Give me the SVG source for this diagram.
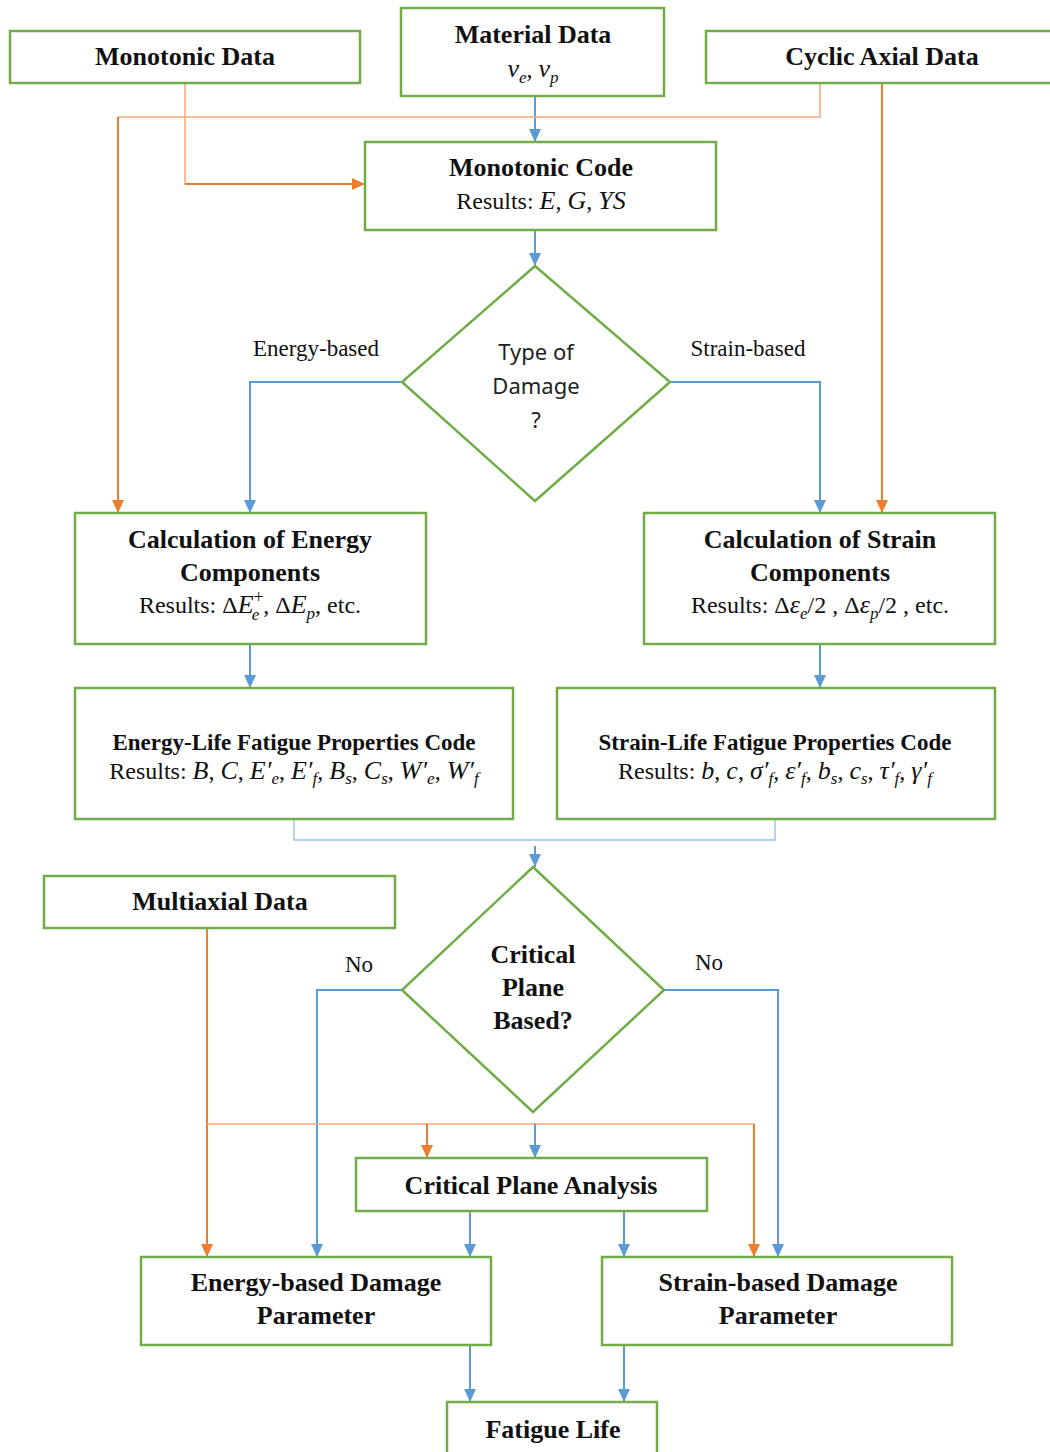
<svg xmlns="http://www.w3.org/2000/svg" width="1050" height="1452" viewBox="0 0 1050 1452">
<style>
.box{fill:#fff;stroke:#70AD47;stroke-width:2.5}
.t{font-family:"Liberation Serif",serif;font-weight:bold;font-size:26px;text-anchor:middle;fill:#111}
.t2{font-family:"Liberation Serif",serif;font-weight:bold;font-size:23px;text-anchor:middle;fill:#111}
.r{font-family:"Liberation Serif",serif;font-size:24px;text-anchor:middle;fill:#111}
.s{font-family:"Noto Sans","Liberation Sans",sans-serif;font-size:22px;text-anchor:middle;fill:#222}
.i{font-style:italic;font-size:26px}
.sub{font-size:17px;font-style:italic}
.lb{font-family:"Liberation Serif",serif;font-size:23px;text-anchor:middle;fill:#111}
.cb{fill:none;stroke:#5B9BD5;stroke-width:2}
.cbl{fill:none;stroke:#9DC3E6;stroke-width:1.5}
.co{fill:none;stroke:#ED7D31;stroke-width:2}
.col{fill:none;stroke:#F4A878;stroke-width:1.5}
</style>
<defs>
<marker id="ab" markerUnits="userSpaceOnUse" markerWidth="13" markerHeight="12" refX="13" refY="6" orient="auto"><path d="M0,0 L13,6 L0,12 z" fill="#5B9BD5"/></marker>
<marker id="ao" markerUnits="userSpaceOnUse" markerWidth="13" markerHeight="12" refX="13" refY="6" orient="auto"><path d="M0,0 L13,6 L0,12 z" fill="#ED7D31"/></marker>
</defs>
<rect width="1050" height="1452" fill="#fff"/>

<g id="connectors">
<path class="cb" d="M535,96 V142" marker-end="url(#ab)"/>
<path class="col" d="M185,83 V184 H300"/>
<path class="co" d="M185,184 H365" stroke-width="2.5" marker-end="url(#ao)"/>
<path class="col" d="M820,83 V117 H118"/>
<path class="co" d="M118,117 V513" marker-end="url(#ao)"/>
<path class="co" d="M882,83 V513" marker-end="url(#ao)"/>
<path class="cb" d="M535,230 V266" marker-end="url(#ab)"/>
<path class="cb" d="M402,382 H250 V513" marker-end="url(#ab)"/>
<path class="cb" d="M670,382 H820 V513" marker-end="url(#ab)"/>
<path class="cb" d="M250,644 V688" marker-end="url(#ab)"/>
<path class="cb" d="M820,644 V688" marker-end="url(#ab)"/>
<path class="cbl" d="M294,819 V840 H775 V819"/>
<path class="cb" d="M535,846 V867" marker-end="url(#ab)"/>
<path class="cb" d="M402,990 H317 V1257" marker-end="url(#ab)"/>
<path class="cb" d="M664,990 H778 V1257" marker-end="url(#ab)"/>
<path class="co" d="M207,928 V1257" marker-end="url(#ao)"/>
<path class="col" d="M207,1124 H754"/>
<path class="co" d="M427,1124 V1158" marker-end="url(#ao)"/>
<path class="co" d="M754,1124 V1257" marker-end="url(#ao)"/>
<path class="cb" d="M535,1124 V1158" marker-end="url(#ab)"/>
<path class="cb" d="M470,1211 V1257" marker-end="url(#ab)"/>
<path class="cb" d="M624,1211 V1257" marker-end="url(#ab)"/>
<path class="cb" d="M470,1345 V1402" marker-end="url(#ab)"/>
<path class="cb" d="M624,1345 V1402" marker-end="url(#ab)"/>
</g>

<g id="monotonic-data">
<rect class="box" x="10" y="31" width="350" height="52"/>
<text class="t" x="185" y="65">Monotonic Data</text>
</g>
<g id="material-data">
<rect class="box" x="401" y="8" width="263" height="88"/>
<text class="t" x="533" y="43">Material Data</text>
<text class="r" x="533" y="77"><tspan class="i">v</tspan><tspan class="sub" dy="6">e</tspan><tspan dy="-6">, </tspan><tspan class="i">v</tspan><tspan class="sub" dy="6">p</tspan></text>
</g>
<g id="cyclic-axial-data">
<rect class="box" x="706" y="31" width="350" height="52"/>
<text class="t" x="882" y="65">Cyclic Axial Data</text>
</g>
<g id="monotonic-code">
<rect class="box" x="365" y="142" width="351" height="88"/>
<text class="t" x="541" y="176">Monotonic Code</text>
<text class="r" x="541" y="209">Results: <tspan class="i">E</tspan>, <tspan class="i">G</tspan>, <tspan class="i">YS</tspan></text>
</g>
<g id="type-of-damage">
<polygon class="box" points="535,266 670,382 535,501 402,382"/>
<text class="s" x="536" y="360">Type of</text>
<text class="s" x="536" y="394">Damage</text>
<text class="s" x="536" y="428">?</text>
</g>
<text class="lb" x="316" y="356">Energy-based</text>
<text class="lb" x="748" y="356">Strain-based</text>
<g id="calc-energy">
<rect class="box" x="75" y="513" width="351" height="131"/>
<text class="t" x="250" y="548">Calculation of Energy</text>
<text class="t" x="250" y="581">Components</text>
<text class="r" x="250" y="613" font-size="25">Results: Δ<tspan class="i">E</tspan><tspan font-size="18" dy="-10">+</tspan><tspan class="sub" dx="-12" dy="17">e</tspan><tspan dx="4" dy="-7">, Δ</tspan><tspan class="i">E</tspan><tspan class="sub" dy="6">p</tspan><tspan dy="-6">, etc.</tspan></text>
</g>
<g id="calc-strain">
<rect class="box" x="644" y="513" width="351" height="131"/>
<text class="t" x="820" y="548">Calculation of Strain</text>
<text class="t" x="820" y="581">Components</text>
<text class="r" x="820" y="613" font-size="25">Results: Δ<tspan class="i">ε</tspan><tspan class="sub" dy="6">e</tspan><tspan dy="-6">/2 , Δ</tspan><tspan class="i">ε</tspan><tspan class="sub" dy="6">p</tspan><tspan dy="-6">/2 , etc.</tspan></text>
</g>
<g id="energy-life">
<rect class="box" x="75" y="688" width="438" height="131"/>
<text class="t2" x="294" y="750">Energy-Life Fatigue Properties Code</text>
<text class="r" x="294" y="779">Results: <tspan class="i">B</tspan>, <tspan class="i">C</tspan>, <tspan class="i">E′</tspan><tspan class="sub" dy="5">e</tspan><tspan dy="-5">, </tspan><tspan class="i">E′</tspan><tspan class="sub" dy="5">f</tspan><tspan dy="-5">, </tspan><tspan class="i">B</tspan><tspan class="sub" dy="5">s</tspan><tspan dy="-5">, </tspan><tspan class="i">C</tspan><tspan class="sub" dy="5">s</tspan><tspan dy="-5">, </tspan><tspan class="i">W′</tspan><tspan class="sub" dy="5">e</tspan><tspan dy="-5">, </tspan><tspan class="i">W′</tspan><tspan class="sub" dy="5">f</tspan></text>
</g>
<g id="strain-life">
<rect class="box" x="557" y="688" width="438" height="131"/>
<text class="t2" x="775" y="750">Strain-Life Fatigue Properties Code</text>
<text class="r" x="775" y="779">Results: <tspan class="i">b</tspan>, <tspan class="i">c</tspan>, <tspan class="i">σ′</tspan><tspan class="sub" dy="5">f</tspan><tspan dy="-5">, </tspan><tspan class="i">ε′</tspan><tspan class="sub" dy="5">f</tspan><tspan dy="-5">, </tspan><tspan class="i">b</tspan><tspan class="sub" dy="5">s</tspan><tspan dy="-5">, </tspan><tspan class="i">c</tspan><tspan class="sub" dy="5">s</tspan><tspan dy="-5">, </tspan><tspan class="i">τ′</tspan><tspan class="sub" dy="5">f</tspan><tspan dy="-5">, </tspan><tspan class="i">γ′</tspan><tspan class="sub" dy="5">f</tspan></text>
</g>
<g id="multiaxial-data">
<rect class="box" x="44" y="876" width="351" height="52"/>
<text class="t" x="220" y="910">Multiaxial Data</text>
</g>
<g id="critical-plane-based">
<polygon class="box" points="533,867 664,990 533,1112 402,990"/>
<text class="t" x="533" y="963">Critical</text>
<text class="t" x="533" y="996">Plane</text>
<text class="t" x="533" y="1029">Based?</text>
</g>
<text class="lb" x="359" y="972">No</text>
<text class="lb" x="709" y="970">No</text>
<g id="critical-plane-analysis">
<rect class="box" x="356" y="1158" width="351" height="53"/>
<text class="t" x="531" y="1194">Critical Plane Analysis</text>
</g>
<g id="energy-damage">
<rect class="box" x="141" y="1257" width="350" height="88"/>
<text class="t" x="316" y="1291">Energy-based Damage</text>
<text class="t" x="316" y="1324">Parameter</text>
</g>
<g id="strain-damage">
<rect class="box" x="602" y="1257" width="350" height="88"/>
<text class="t" x="778" y="1291">Strain-based Damage</text>
<text class="t" x="778" y="1324">Parameter</text>
</g>
<g id="fatigue-life">
<rect class="box" x="447" y="1402" width="210" height="60"/>
<text class="t" x="553" y="1438">Fatigue Life</text>
</g>
</svg>
